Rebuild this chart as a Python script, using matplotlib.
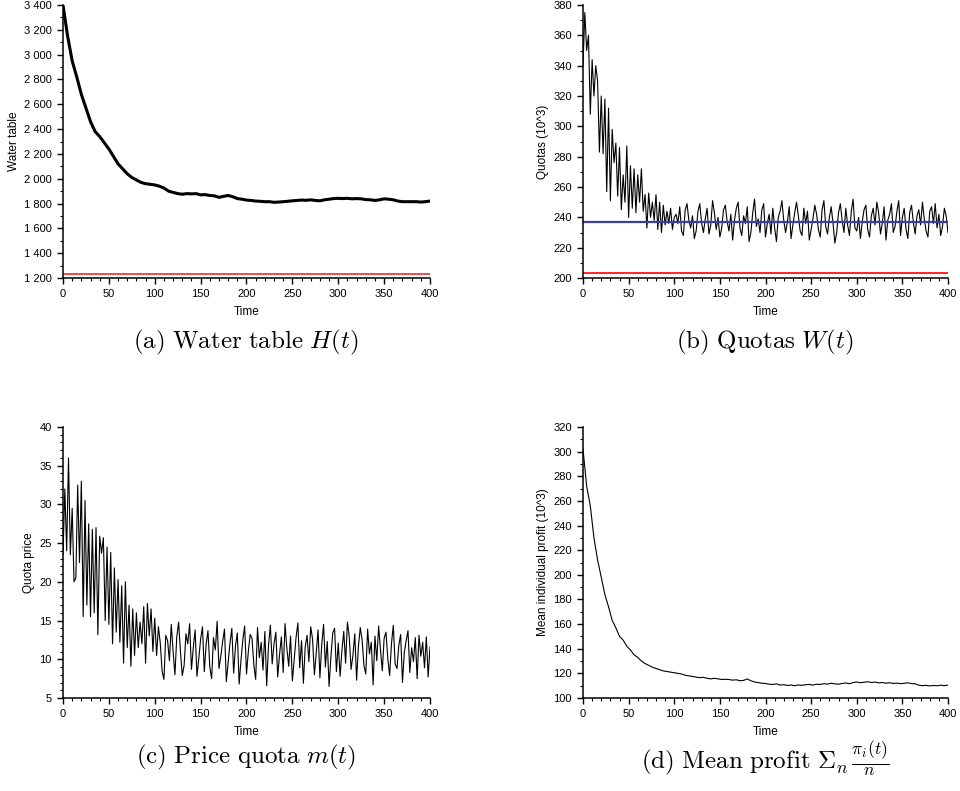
import numpy as np
import matplotlib
matplotlib.use("Agg")
import matplotlib.pyplot as plt
from matplotlib.ticker import MultipleLocator, FuncFormatter

plt.rcParams['font.family'] = ['Liberation Sans', 'DejaVu Sans']
plt.rcParams['mathtext.fontset'] = 'cm'

# (a) water table, every 5 steps
t_a = np.arange(0, 401, 5)
water = [3400, 3150, 2950, 2820, 2680, 2570, 2460, 2380, 2340, 2290,
         2240, 2180, 2120, 2080, 2040, 2010, 1990, 1970, 1960, 1955,
         1950, 1940, 1925, 1900, 1890, 1880, 1875, 1880, 1878, 1880,
         1870, 1872, 1865, 1862, 1850, 1858, 1865, 1855, 1840, 1835,
         1828, 1825, 1820, 1818, 1815, 1815, 1810, 1812, 1815, 1818,
         1822, 1825, 1828, 1826, 1830, 1825, 1822, 1830, 1835, 1840,
         1842, 1840, 1842, 1838, 1840, 1838, 1832, 1830, 1825, 1830,
         1838, 1835, 1830, 1820, 1815, 1815, 1815, 1815, 1812, 1815,
         1820]
water_min = 1235

# (b) quotas, every 2 steps
t_b = np.arange(0, 401, 2)
quotas = [340, 375, 350, 360, 308, 344, 320, 340, 330, 283,
          320, 282, 318, 257, 312, 251, 298, 276, 289, 254,
          286, 245, 268, 250, 287, 240, 274, 246, 272, 243,
          268, 250, 272, 244, 255, 233, 256, 240, 250, 238,
          255, 232, 250, 230, 248, 235, 244, 236, 246, 232,
          240,
          242, 236, 247, 231, 228, 245, 249, 238, 233, 241,
          226, 231, 244, 249, 236, 230, 239, 246, 229, 235,
          251, 243, 232, 240, 227, 233, 245, 248, 237, 231,
          242, 225, 238, 246, 250, 233, 228, 241, 236, 247,
          224, 230, 243, 252, 234, 239, 230, 245, 249, 227,
          236, 242, 229, 246, 233, 224, 240, 244, 251, 238,
          230, 237, 247, 226, 235, 243, 250, 241, 231, 228,
          246, 236, 244, 225, 232, 239, 248, 242, 232, 227,
          245, 251, 234, 229, 240, 247, 236, 223, 230, 243,
          249, 238, 230, 246, 235, 228, 244, 252, 233, 231,
          240, 226, 237, 245, 248, 232, 227, 241, 246, 235,
          250, 243, 229, 236, 247, 225, 238, 242, 249, 230,
          234, 244, 251, 228, 240, 246, 232, 226, 243, 248,
          237, 229, 241, 245, 235, 250, 239, 231, 227, 244,
          247, 236, 249, 233, 242, 228, 234, 246, 241, 230]
quota_opt = 237
quota_min = 203.5

# (c) quota price, every 2 steps
t_c = np.arange(0, 401, 2)
price = [23.5, 32, 24, 36, 23.5, 29.5, 20, 20.5, 32.5, 22.5,
         33, 15.5, 30.5, 17, 27.5, 15.5, 26.8, 16, 27, 13.2,
         25.9, 23.7, 25.7, 15, 24.5, 14.5, 23.8, 12, 21.8, 13.5,
         20.3, 12.2, 19.5, 9.5, 20, 11.5, 17, 9.1, 16.5, 10.5,
         16, 11.5, 14.8, 12, 16.8, 9.5, 17.2, 13, 16.5, 11,
         15.3,
         10.5, 14.2, 12.1, 8.5, 7.4, 13.1, 12.4, 9.8, 14.5, 11.0,
         8.0, 12.9, 14.8, 11.0, 7.9, 9.2, 13.3, 12.0, 14.6, 8.7,
         11.5, 13.8, 7.8, 10.1, 12.6, 14.2, 8.4, 11.9, 13.7, 9.0,
         7.5, 12.8, 11.2, 14.9, 8.8, 10.4, 12.3, 13.9, 7.1, 9.6,
         12.1, 14.0, 8.2, 11.7, 13.4, 6.8, 9.9, 12.5, 14.3, 8.1,
         11.0, 13.2, 12.7, 9.3, 7.4, 14.1, 10.2, 12.2, 8.6, 13.6,
         6.6, 11.8, 14.4, 9.4, 12.0, 13.5, 7.7, 10.6, 12.9, 8.3,
         14.6, 11.4, 9.1, 13.0, 7.2, 10.0, 12.8, 14.7, 8.9, 12.4,
         6.9, 11.6, 13.1, 9.7, 14.2, 12.6, 8.0, 10.8, 13.8, 7.6,
         11.9, 14.5, 9.0, 12.3, 6.5, 10.3, 13.4, 14.0, 8.4, 12.1,
         7.8, 11.1, 13.6, 9.5, 14.8, 12.9, 8.7, 10.5, 13.3, 7.3,
         11.7, 14.1, 12.5, 9.2, 8.1, 13.9, 10.7, 12.2, 6.7, 13.0,
         9.8, 14.3, 11.3, 8.5, 12.7, 13.5, 10.1, 7.9, 12.0, 14.4,
         9.4, 8.8, 11.8, 13.2, 7.0, 10.9, 12.4, 13.7, 8.3, 11.5,
         9.7, 12.8, 7.5, 13.1, 10.4, 12.2, 8.9, 12.9, 7.7, 11.6]

# (d) mean profit, every 4 steps
t_d = np.arange(0, 401, 4)
profit = [302, 272, 256, 230, 212, 198, 184, 174, 163, 157,
          150, 147, 142, 139, 135, 133, 130, 128, 126.5, 125,
          124, 123, 122, 121.5, 121, 120.5, 120, 119.5, 118.5, 118,
          117.5, 117, 116.5, 116.8, 116, 115.5, 116, 115.5, 115, 115.2,
          115, 114.5, 114.8, 114, 114.3, 115.5, 114, 113, 112.5, 112,
          111.8, 111.2, 111, 111.5, 110.5, 110.8, 110.2, 110.5, 110, 110.6,
          110.3, 110.8, 111, 110.5, 111.2, 111, 111.6, 111.3, 112, 111.5,
          111.2, 111.8, 112.2, 111.6, 112.5, 113, 112.4, 112.8, 113.2, 112.6,
          112.9, 112.3, 112.6, 112, 112.4, 111.8, 112.1, 111.6, 112, 112.3,
          111.7, 111.5, 110.4, 110, 110.3, 109.8, 110.2, 109.9, 110.4, 110, 110.5]

fig = plt.figure(figsize=(9.6, 7.91), dpi=100)

W, H = 960, 791
def place(l, t, r, b):
    return fig.add_axes([l / W, 1 - b / H, (r - l) / W, (b - t) / H])

ax_a = place(63, 5, 430, 278)
ax_b = place(583, 5, 948, 278)
ax_c = place(63, 427, 430, 698)
ax_d = place(583, 427, 948, 698)

ax_a.plot(t_a, water, color='black', lw=2.2)
ax_a.axhline(water_min, color='#e83030', lw=1.2)
ax_b.plot(t_b, quotas, color='black', lw=0.8)
ax_b.axhline(quota_opt, color='#3c3ca8', lw=1.6)
ax_b.axhline(quota_min, color='#ff0000', lw=1.2)
ax_c.plot(t_c, price, color='black', lw=0.8)
ax_d.plot(t_d, profit, color='black', lw=0.8)

space_fmt = FuncFormatter(lambda v, p: f"{int(v):,}".replace(",", " "))

setup = [
    (ax_a, (1200, 3400), 200, 100, "Water table"),
    (ax_b, (200, 380), 20, 10, "Quotas (10^3)"),
    (ax_c, (5, 40), 5, 1, "Quota price"),
    (ax_d, (100, 320), 20, 10, "Mean individual profit (10^3)"),
]
for ax, ylim, major, minor, ylab in setup:
    ax.set_xlim(0, 400)
    ax.set_ylim(*ylim)
    ax.xaxis.set_major_locator(MultipleLocator(50))
    ax.xaxis.set_minor_locator(MultipleLocator(10))
    ax.yaxis.set_major_locator(MultipleLocator(major))
    ax.yaxis.set_minor_locator(MultipleLocator(minor))
    for s in ['top', 'right']:
        ax.spines[s].set_visible(False)
    for s in ['left', 'bottom']:
        ax.spines[s].set_linewidth(1.1)
    ax.tick_params(which='major', direction='out', length=4, width=1, labelsize=8, pad=4)
    ax.tick_params(which='minor', direction='out', length=2, width=0.8)
    ax.set_xlabel("Time", fontsize=8.5, labelpad=5)
    ax.set_ylabel(ylab, fontsize=8.5, labelpad=3)

ax_a.yaxis.set_major_formatter(space_fmt)

captions = [
    (246, 342, r"$\mathrm{(a)\ Water\ table}\ H(t)$"),
    (765, 342, r"$\mathrm{(b)\ Quotas}\ W(t)$"),
    (246, 757, r"$\mathrm{(c)\ Price\ quota}\ m(t)$"),
    (765, 759, r"$\mathrm{(d)\ Mean\ profit}\ \Sigma_n\,\frac{\pi_i(t)}{n}$"),
]
for x, y, txt in captions:
    fig.text(x / W, 1 - y / H, txt, ha='center', va='center', fontsize=18)

plt.savefig('out.png', dpi=100)
plt.close()
